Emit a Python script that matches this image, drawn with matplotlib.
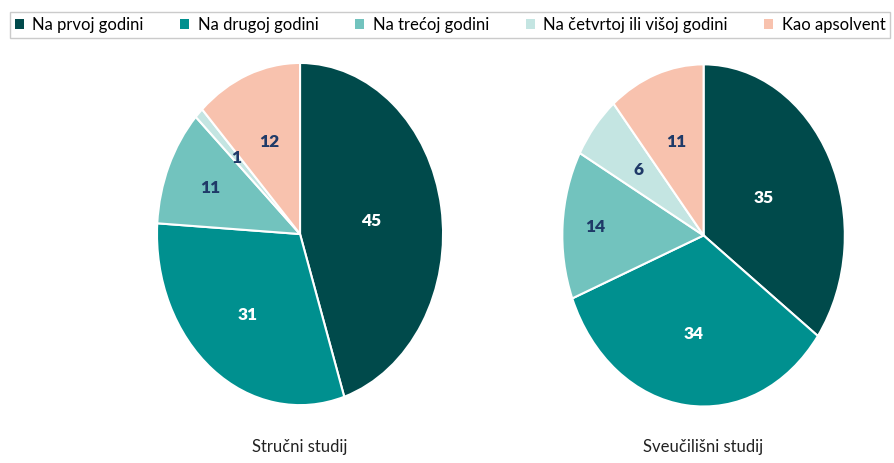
import matplotlib.pyplot as plt
import numpy as np

# Data
categories = ["Na prvoj godini", "Na drugoj godini", "Na trećoj godini",
              "Na četvrtoj ili višoj godini", "Kao apsolvent"]
strucni = [45, 31, 11, 1, 12]
sveucilisni = [35, 34, 14, 6, 11]
titles = ["Stručni studij", "Sveučilišni studij"]

colors = ["#004a4b", "#00908f", "#72c3be", "#c4e5e2", "#f8c2ae"]
label_colors = ["white", "white", "#1f3a68", "#1f3a68", "#1f3a68"]
# label distances from centre (Excel "best fit" placement)
dist_left = [0.5, 0.6, 0.68, 0.63, 0.58]
dist_right = [0.48, 0.58, 0.77, 0.6, 0.58]

plt.rcParams['font.family'] = ['Lato', 'DejaVu Sans']

fig = plt.figure(figsize=(8.94, 4.63), dpi=100)
ax_l = fig.add_axes([0.1756, 0.125, 0.32, 0.739])
ax_r = fig.add_axes([0.629, 0.122, 0.316, 0.739])


def draw_pie(ax, values, dists):
    wedges, _ = ax.pie(values, colors=colors, startangle=90, counterclock=False,
                       wedgeprops=dict(edgecolor="white", linewidth=1.5))
    for w, v, d, c in zip(wedges, values, dists, label_colors):
        ang = np.deg2rad((w.theta1 + w.theta2) / 2)
        ax.text(d * np.cos(ang), d * np.sin(ang), str(v), ha="center", va="center",
                fontsize=12.5, fontweight="heavy", color=c)
    ax.set_aspect("auto")
    ax.set_xlim(-1, 1)
    ax.set_ylim(-1, 1)
    ax.axis("off")
    return wedges


wedges = draw_pie(ax_l, strucni, dist_left)
draw_pie(ax_r, sveucilisni, dist_right)

fig.text(0.3356, 0.035, titles[0], ha="center", va="center", fontsize=12, color="#222222")
fig.text(0.7865, 0.035, titles[1], ha="center", va="center", fontsize=12, color="#222222")

leg = fig.legend(wedges, categories, loc="upper left", ncol=5,
                 bbox_to_anchor=(0.011, 0.918, 0.985, 0.056), mode="expand",
                 frameon=True, fancybox=False, fontsize=12,
                 handlelength=0.55, handleheight=0.55, handletextpad=0.5,
                 borderpad=0.3, borderaxespad=0)
leg.get_frame().set_edgecolor("#bfbfbf")
leg.get_frame().set_linewidth(1.0)
for h in leg.legend_handles:
    h.set_edgecolor("none")

fig.savefig("out.png", dpi=100)
